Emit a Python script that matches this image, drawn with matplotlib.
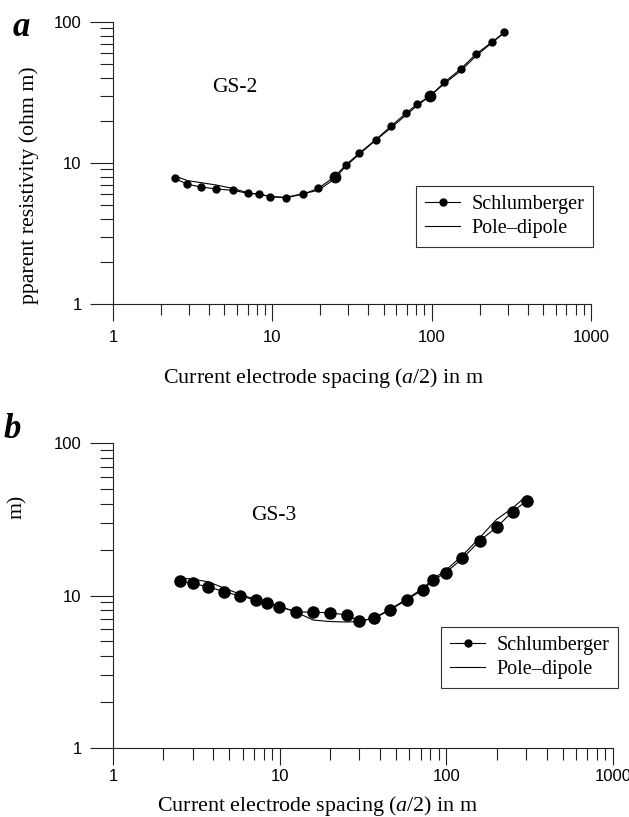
import matplotlib
matplotlib.use("Agg")
import matplotlib.pyplot as plt
from matplotlib.lines import Line2D
from matplotlib.ticker import LogLocator, FixedLocator, NullFormatter, FixedFormatter

# ---------------- data ----------------
# Panel a : GS-2
gs2_spacing = [2.44, 2.93, 3.58, 4.45, 5.65, 7.0, 8.2, 9.7, 12.1, 15.5, 19.4, 24.6,
               28.9, 35, 44.5, 55.7, 69.5, 81, 98, 120, 152, 190, 238, 286]
gs2_schlumberger = [7.79, 7.06, 6.76, 6.54, 6.40, 6.10, 6.03, 5.77, 5.67, 6.0, 6.6, 8.0,
                    9.68, 11.7, 14.6, 18.3, 22.7, 26.1, 29.9, 37.3, 46.4, 59.3, 71.8, 84.5]
gs2_poledipole = [8.1, 7.5, 7.25, 6.98, 6.6, 6.15, 6.0, 5.8, 5.7, 6.05, 6.4, 7.7,
                  9.5, 11.5, 14.5, 17.8, 22.0, 25.5, 30.0, 36.5, 45.0, 57.5, 71.0, 84.0]

# Panel b : GS-3
gs3_spacing = [2.52, 3.0, 3.73, 4.63, 5.78, 7.2, 8.36, 9.95, 12.5, 15.9, 20, 25.2,
               30, 37, 45.9, 57.8, 72.1, 83.5, 99, 125, 159, 200, 250, 303]
gs3_schlumberger = [12.45, 12.0, 11.4, 10.6, 9.93, 9.34, 8.89, 8.45, 7.83, 7.76, 7.71, 7.45,
                    6.8, 7.08, 8.04, 9.34, 10.9, 12.6, 14.1, 17.5, 22.9, 28.0, 35.5, 41.7]
gs3_poledipole = [13.0, 12.8, 12.3, 11.2, 10.2, 9.4, 9.0, 8.5, 7.8, 6.9, 6.75, 6.7,
                  6.75, 7.15, 8.1, 9.5, 11.1, 12.9, 14.6, 18.3, 24.0, 31.5, 37.5, 45.0]

panel_letters = ["a", "b"]
site_names = ["GS-2", "GS-3"]
legend_labels = ["Schlumberger", "Pole\u2013dipole"]
x_ticks = [1, 10, 100, 1000]
x_ticklabels = ["1", "10", "100", "1000"]
y_ticks = [1, 10, 100]
y_ticklabels = ["1", "10", "100"]
xlabel_text = "Current electrode spacing ($\\mathit{a}$/2) in m"
ylabel_top = "pparent resistivity (ohm m)"
ylabel_bottom = "m)"

# ---------------- figure ----------------
W, H = 629, 817
fig = plt.figure(figsize=(W / 100, H / 100), dpi=100)

serif = ["Liberation Serif", "DejaVu Serif"]
sans = ["Liberation Sans", "DejaVu Sans"]
plt.rcParams["mathtext.fontset"] = "custom"
plt.rcParams["mathtext.it"] = "Liberation Serif:italic"
plt.rcParams["mathtext.rm"] = "Liberation Serif"


def px_rect(l, t, r, b):
    return [l / W, 1 - b / H, (r - l) / W, (b - t) / H]


ax1 = fig.add_axes(px_rect(113, 22, 591, 304))
ax2 = fig.add_axes(px_rect(113, 443, 613, 748))


def style_axis(ax, xmajor_len, xminor_len, xpad):
    ax.set_xscale("log")
    ax.set_yscale("log")
    ax.set_xlim(1, 1000)
    ax.set_ylim(1, 100)
    for s in ["top", "right"]:
        ax.spines[s].set_visible(False)
    for s in ["left", "bottom"]:
        ax.spines[s].set_linewidth(0.8)
        ax.spines[s].set_color("#222222")
    ax.xaxis.set_major_locator(FixedLocator(x_ticks))
    ax.xaxis.set_major_formatter(FixedFormatter(x_ticklabels))
    ax.yaxis.set_major_locator(FixedLocator(y_ticks))
    ax.yaxis.set_major_formatter(FixedFormatter(y_ticklabels))
    ax.xaxis.set_minor_locator(LogLocator(base=10, subs=range(2, 10)))
    ax.yaxis.set_minor_locator(LogLocator(base=10, subs=range(2, 10)))
    ax.xaxis.set_minor_formatter(NullFormatter())
    ax.yaxis.set_minor_formatter(NullFormatter())
    ax.tick_params(axis="y", which="major", direction="out", length=16.5, width=0.8,
                   pad=6, labelsize=12, color="#222222")
    ax.tick_params(axis="y", which="minor", direction="out", length=9.5, width=0.8,
                   color="#222222")
    ax.tick_params(axis="x", which="major", direction="out", length=xmajor_len, width=0.8,
                   pad=xpad, labelsize=12, color="#222222")
    ax.tick_params(axis="x", which="minor", direction="out", length=xminor_len, width=0.8,
                   color="#222222")
    for lab in ax.get_xticklabels() + ax.get_yticklabels():
        lab.set_family(sans)


style_axis(ax1, 12, 8, 7)
style_axis(ax2, 12, 8.5, 3)

# panel a curves
ax1.plot(gs2_spacing, gs2_poledipole, color="black", lw=0.8)
ax1.plot(gs2_spacing, gs2_schlumberger, color="black", lw=0.8, marker="o",
         markersize=5)
ax1.plot(gs2_spacing, gs2_schlumberger, color="black", lw=0, marker="o",
         markersize=7.5, markevery=[11, 18])

# panel b curves
ax2.plot(gs3_spacing, gs3_poledipole, color="black", lw=0.8)
ax2.plot(gs3_spacing, gs3_schlumberger, color="black", lw=0.8, marker="o",
         markersize=8)


def add_legend(l, t):
    handles = [Line2D([], [], color="black", lw=0.8, marker="o", markersize=5),
               Line2D([], [], color="black", lw=0.8)]
    leg = fig.legend(handles, legend_labels, loc="upper left",
                     bbox_to_anchor=(l / W, 1 - t / H),
                     bbox_transform=fig.transFigure, borderaxespad=0,
                     fancybox=False, framealpha=1, edgecolor="#333333",
                     prop={"family": serif, "size": 14.5}, handlelength=1.75,
                     handletextpad=0.55, borderpad=0.45, labelspacing=0.25)
    leg.get_frame().set_linewidth(0.8)
    return leg


add_legend(416, 186)
add_legend(441, 627)

# texts
fig.text(235 / W, 1 - 88 / H, site_names[0], ha="center", va="center",
         family=serif, fontsize=15.5)
fig.text(274 / W, 1 - 516 / H, site_names[1], ha="center", va="center",
         family=serif, fontsize=15.5)

fig.text(21 / W, 1 - 36 / H, panel_letters[0], ha="center", va="baseline",
         family=serif, fontsize=25, fontweight="bold", fontstyle="italic")
fig.text(12 / W, 1 - 438 / H, panel_letters[1], ha="center", va="baseline",
         family=serif, fontsize=25, fontweight="bold", fontstyle="italic")

fig.text(29 / W, 1 - 185 / H, ylabel_top, rotation=90, ha="center", va="center",
         family=serif, fontsize=15.7)
fig.text(17 / W, 1 - 507 / H, ylabel_bottom, rotation=90, ha="center", va="center",
         family=serif, fontsize=15.7)

fig.text(324 / W, 1 - 378 / H, xlabel_text, ha="center", va="center",
         family=serif, fontsize=15.8)
fig.text(318 / W, 1 - 806 / H, xlabel_text, ha="center", va="center",
         family=serif, fontsize=15.8)

fig.savefig("out.png", dpi=100)
